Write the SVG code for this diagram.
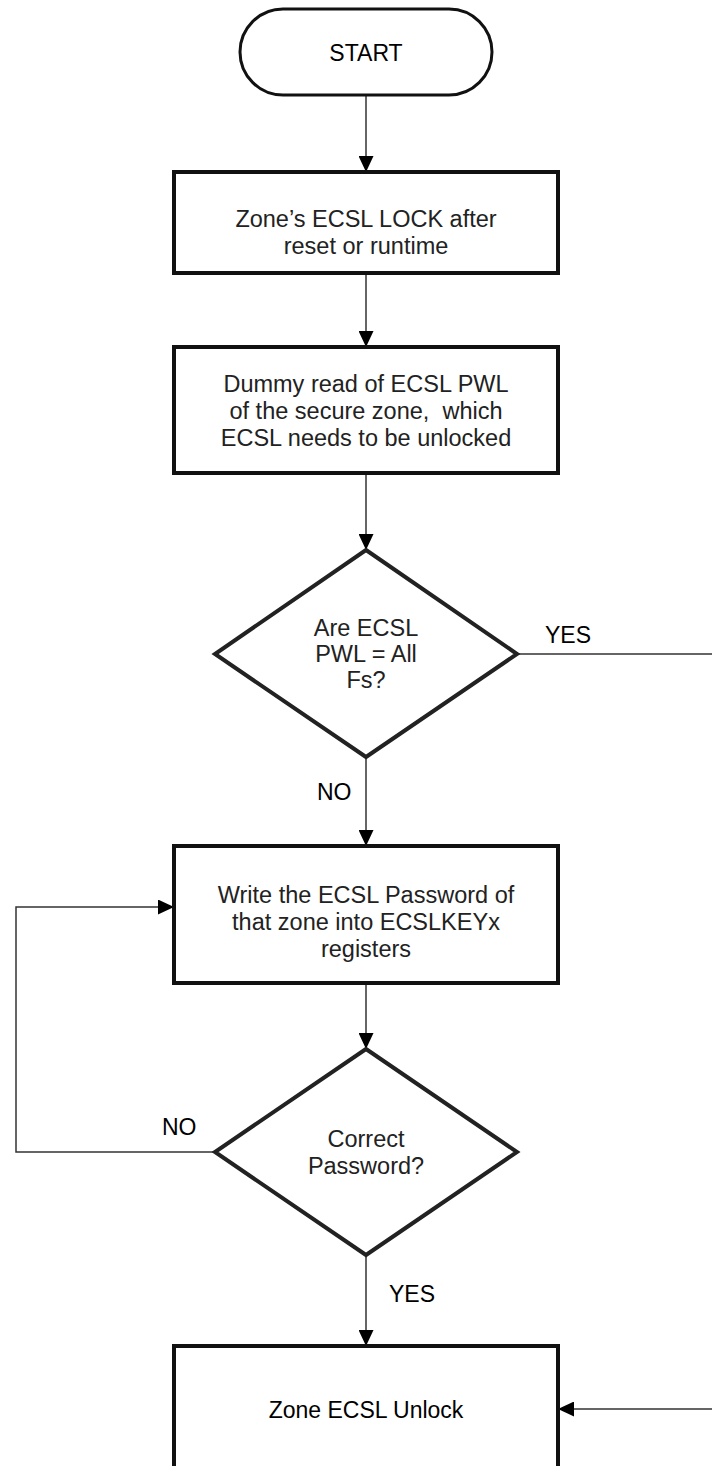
<svg xmlns="http://www.w3.org/2000/svg" width="712" height="1466" viewBox="0 0 712 1466">
<style>
.box{fill:#fff;stroke:#111;stroke-width:4}
.term{fill:#fff;stroke:#111;stroke-width:3}
.dia{fill:#fff;stroke:#222;stroke-width:4;stroke-linejoin:miter}
.con{fill:none;stroke:#333;stroke-width:1.5}
text{font-family:"Liberation Sans",Arial,sans-serif;font-size:23.5px;fill:#222}
.c{text-anchor:middle}
.lbl{fill:#000;font-size:23px}
</style>
<defs>
<marker id="ah" markerUnits="userSpaceOnUse" markerWidth="16" markerHeight="15" refX="16" refY="7.5" orient="auto">
<path d="M0,0 L16,7.5 L0,15 z" fill="#000"/>
</marker>
</defs>
<rect width="712" height="1466" fill="#fff"/>
<g id="connectors">
<path class="con" d="M366,95 V172" marker-end="url(#ah)"/>
<path class="con" d="M366,273 V347" marker-end="url(#ah)"/>
<path class="con" d="M366,473 V550" marker-end="url(#ah)"/>
<path class="con" d="M366,757 V846" marker-end="url(#ah)"/>
<path class="con" d="M366,983 V1049" marker-end="url(#ah)"/>
<path class="con" d="M366,1255 V1346" marker-end="url(#ah)"/>
<path class="con" d="M215,1152 H16 V907 H174" marker-end="url(#ah)"/>
<path class="con" d="M517,654 H716 V1409 H558" marker-end="url(#ah)"/>
<text class="lbl" x="545" y="643">YES</text>
<text class="lbl" x="317" y="800">NO</text>
<text class="lbl" x="162" y="1135">NO</text>
<text class="lbl" x="389" y="1302">YES</text>
</g>
<g id="start">
<rect class="term" x="240" y="9" width="252" height="86" rx="43" ry="43"/>
<text class="c lbl" x="366" y="61">START</text>
</g>
<g id="lock">
<rect class="box" x="174" y="172" width="384" height="101"/>
<text class="c" x="366" y="227">Zone’s ECSL LOCK after</text>
<text class="c" x="366" y="254">reset or runtime</text>
</g>
<g id="dummy-read">
<rect class="box" x="174" y="347" width="384" height="126"/>
<text class="c" x="366" y="392">Dummy read of ECSL PWL</text>
<text class="c" x="366" y="419" xml:space="preserve">of the secure zone,  which</text>
<text class="c" x="366" y="446">ECSL needs to be unlocked</text>
</g>
<g id="check-fs">
<polygon class="dia" points="366,550 517,654 366,757 215,654"/>
<text class="c" x="366" y="636">Are ECSL</text>
<text class="c" x="366" y="662">PWL = All</text>
<text class="c" x="366" y="688">Fs?</text>
</g>
<g id="write-password">
<rect class="box" x="174" y="846" width="384" height="137"/>
<text class="c" x="366" y="903">Write the ECSL Password of</text>
<text class="c" x="366" y="930">that zone into ECSLKEYx</text>
<text class="c" x="366" y="957">registers</text>
</g>
<g id="check-password">
<polygon class="dia" points="366,1049 517,1152 366,1255 215,1152"/>
<text class="c" x="366" y="1147">Correct</text>
<text class="c" x="366" y="1174">Password?</text>
</g>
<g id="unlock">
<rect class="box" x="174" y="1346" width="384" height="140"/>
<text class="c lbl" x="366" y="1418">Zone ECSL Unlock</text>
</g>
</svg>
